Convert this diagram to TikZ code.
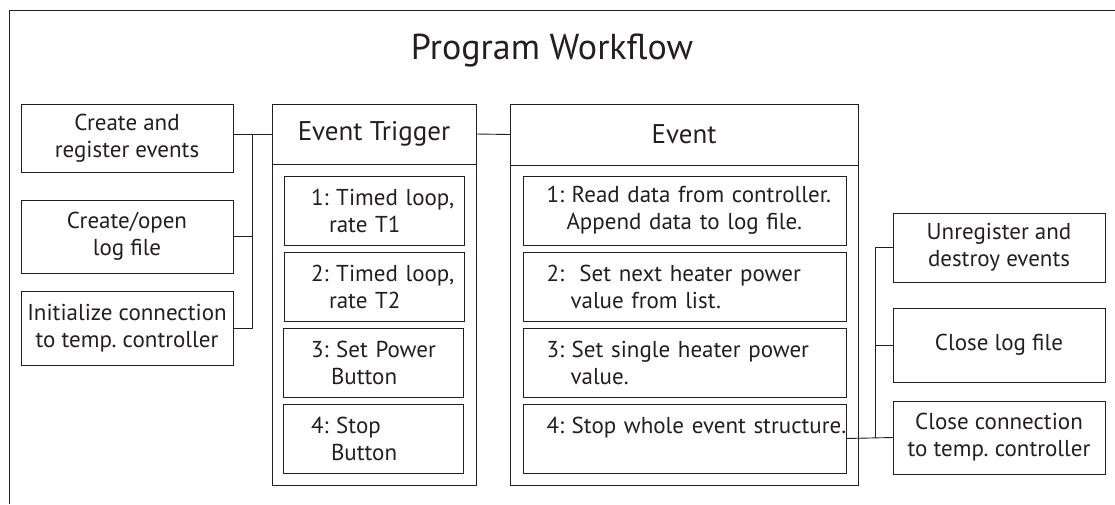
\documentclass[tikz,border=0pt]{standalone}
\usepackage{fontspec}
\setmainfont{PT Sans}
\definecolor{ink}{RGB}{35,31,32}
\frenchspacing
\setlength{\parindent}{0pt}
\newcommand{\subline}[2]{\hspace*{#1pt}\mbox{#2}}
\begin{document}
\begin{tikzpicture}[x=1pt, y=-1pt, line width=0.9pt, draw=ink, text=ink,
    box/.style={draw=ink, inner sep=0pt, outer sep=0pt, align=center, font=\fontsize{23}{27}\selectfont},
    sidebox/.style={box, minimum width=212, minimum height=70},
    head/.style={box, minimum height=60, font=\fontsize{27}{32}\selectfont},
    trigsub/.style={box, minimum width=180, minimum height=69, text width=164, align=left},
    evsub/.style={box, minimum width=323, minimum height=69, text width=312, align=left}]
    \useasboundingbox (0, 0) rectangle (1115, 504);
    \draw (1115, 10) -- (9, 10) -- (9, 504);
    \node[font=\fontsize{36}{40}\selectfont] (title) at (552, 50) {Program Workflow};

    \node[sidebox, minimum height=68] (create) at (127, 138) {Create and\\register events};
    \node[sidebox, minimum height=73] (logopen) at (127, 236.5) {Create/open\\log file};
    \node[sidebox, minimum height=74] (init) at (127, 328) {Initialize connection\\to temp. controller};

    \node[head, minimum width=204] (trighead) at (374, 134) {Event Trigger};
    \node[box, minimum width=204, minimum height=321] (trigbody) at (374, 324.5) {};
    \node[trigsub] (t1) at (374, 210.5) {\subline{19}{1: Timed loop,}\\\subline{37}{rate T1}};
    \node[trigsub] (t2) at (374, 286.5) {\subline{19}{2: Timed loop,}\\\subline{37}{rate T2}};
    \node[trigsub] (t3) at (373, 362.5) {\subline{20}{3: Set Power}\\\subline{40}{Button}};
    \node[trigsub] (t4) at (373, 438.5) {\subline{20}{4: Stop}\\\subline{40}{Button}};

    \node[head, minimum width=348, minimum height=61] (evhead) at (684, 134.5) {Event};
    \node[box, minimum width=348, minimum height=320] (evbody) at (684, 325) {};
    \node[evsub] (e1) at (684.5, 210.5) {\subline{18}{1: Read data from controller.}\\\subline{38}{Append data to log file.}};
    \node[evsub] (e2) at (684.5, 286.5) {\subline{18}{2:\ \ Set next heater power}\\\subline{42}{value from list.}};
    \node[evsub] (e3) at (684.5, 362.5) {\subline{18}{3: Set single heater power}\\\subline{42}{value.}};
    \node[evsub] (e4) at (684.5, 438.5) {\subline{18}{4: Stop whole event structure.}\\\mbox{}};

    \node[sidebox, minimum height=69] (unreg) at (999, 247.5) {Unregister and\\destroy events};
    \node[sidebox, minimum height=74] (closelog) at (999, 345) {Close log file};
    \node[sidebox, minimum height=73] (closecon) at (999, 437.5) {Close connection\\to temp. controller};

    \coordinate (lbus) at (252, 0);
    \coordinate (rbus) at (875, 0);
    \draw (create.east |- trighead.west) -- (trighead.west);
    \draw (lbus |- trighead.west) -- (lbus |- init.east) -- (init.east);
    \draw (logopen.east) -- (lbus |- logopen.east);
    \draw (trighead.east) -- (evhead.west);
    \draw (e4.east) -- (closecon.west);
    \draw (rbus |- closecon.west) -- (rbus |- unreg.west) -- (unreg.west);
    \draw (closelog.west) -- (rbus |- closelog.west);
\end{tikzpicture}
\end{document}
